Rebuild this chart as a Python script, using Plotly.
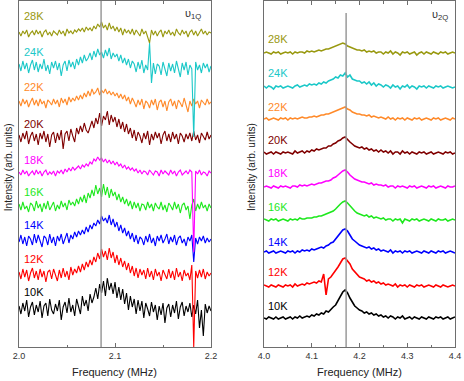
import numpy as np
import plotly.graph_objects as go
from plotly.subplots import make_subplots

TEMPS = ["10K", "12K", "14K", "16K", "18K", "20K", "22K", "24K", "28K"]
COLORS = ["#000000", "#ff0000", "#0000ff", "#1ee81e", "#ff00ff", "#800000", "#ff8a2a", "#1cc8c8", "#999910"]

# frequency grids (MHz)
FREQ_1Q = np.round(np.linspace(2.0, 2.2, 101), 4)
FREQ_2Q = np.round(np.linspace(4.0, 4.4, 81), 4)
LINE_1Q = 2.0855
LINE_2Q = 4.172

# nu_1Q spectra (arb. units, relative to each baseline)
I1Q_10K = [2, -6, 5, -3, 8, -9, 1, 6, -7, 3,
           -4, 7, -10, 2, 5, -8, 9, -2, -6, 4,
           -3, 8, -12, 1, 6, -5, 10, -4, 3, -8,
           9, 0, -6, 12, 2, 8, -3, 14, 5, 11,
           20, 9, 24, 15, 27, 12, 30, 18, 25, 14,
           26, 10, 21, 8, 19, 4, 15, -2, 12, 1,
           9, -6, 8, -3, 7, -10, 5, -1, -8, 6,
           -4, 3, -12, 2, -7, 5, -15, 0, 4, -9,
           3, -5, 7, -11, 1, 6, -8, 2, -4, 5,
           -9, 3, -6, 8, -20, -2, -28, 4, -5, 2,
           -3]
I1Q_12K = [3, -4, 6, -2, 5, -6, 2, 7, -3, 4,
           -5, 6, -2, 4, -7, 3, 5, -4, 6, -1,
           -6, 5, -3, 7, -2, 4, -5, 8, 0, 6,
           2, 9, 3, 11, 5, 13, 8, 15, 10, 18,
           13, 22, 16, 26, 18, 24, 15, 27, 17, 23,
           12, 20, 10, 17, 8, 14, 5, 12, 2, 9,
           -1, 7, -3, 6, 0, 5, -4, 7, -2, 4,
           -5, 6, -1, 3, -6, 5, 0, -4, 6, -3,
           4, -5, 7, -2, 3, -6, 5, -1, 2, -5,
           10, -72, 4, -3, 5, -2, 6, -4, 3, -1,
           2]
I1Q_14K = [-2, 5, -4, 3, -6, 4, 1, -5, 6, -3,
           5, -2, -7, 4, 2, -5, 6, -3, 3, -6,
           4, -1, 6, -4, 2, 7, -3, 5, 1, 8,
           3, 9, 5, 10, 6, 13, 8, 15, 11, 17,
           14, 20, 16, 24, 19, 22, 17, 25, 15, 21,
           13, 18, 9, 15, 7, 12, 4, 9, 1, 7,
           -2, 5, -4, 3, 1, -5, 4, -2, 6, -3,
           2, -6, 4, -1, 5, -3, 1, 6, -4, 3,
           -2, 5, -5, 2, 4, -3, 1, -6, 3, -1,
           5, -22, 2, -4, 3, -1, 4, -3, 2, -2,
           1]
I1Q_16K = [3, -3, 5, -2, 1, -5, 4, 2, -4, 6,
           -1, 3, -5, 4, -2, 6, -3, 1, 5, -4,
           2, -2, 6, 0, 4, -3, 7, 2, 5, 1,
           8, 3, 10, 5, 12, 4, 14, 9, 17, 11,
           22, 13, 19, 10, 23, 12, 20, 9, 18, 11,
           15, 7, 13, 5, 10, 3, 8, 1, 6, -2,
           5, -1, 4, -4, 3, 2, -3, 5, -1, 3,
           -4, 4, 0, -2, 5, -3, 2, -5, 4, 1,
           -3, 5, -2, 3, -6, 2, 4, -3, 1, -12,
           2, 8, -4, 3, -2, 5, -1, 2, -4, 3,
           -1]
I1Q_18K = [1, -2, 3, -1, 2, -3, 0, 2, -2, 3,
           -1, 2, -3, 1, 3, -2, 1, -1, 2, -3,
           2, 0, 3, -1, 4, 1, 5, 2, 6, 3,
           5, 7, 4, 8, 6, 9, 7, 11, 9, 14,
           12, 16, 13, 15, 11, 14, 10, 13, 9, 12,
           8, 11, 7, 9, 5, 8, 4, 6, 3, 5,
           2, 4, 0, 3, -1, 2, 1, -2, 3, 0,
           -2, 2, 1, -3, 3, -1, 2, 0, -2, 3,
           -1, 2, -3, 1, 3, -2, 0, 2, -1, 3,
           1, -79, 2, -1, 3, -2, 1, 0, -3, 2,
           0]
I1Q_20K = [2, -5, 4, -2, 6, -7, 1, 5, -4, 3,
           -8, 4, -2, 6, -5, 3, -10, 2, 5, -6,
           4, -3, 7, -12, 3, 6, -4, 8, 1, -5,
           9, 3, 11, 5, 14, 7, 4, 10, 16, 9,
           19, 13, 24, 11, 21, 17, 26, 12, 22, 15,
           20, 10, 18, 8, 15, 5, 13, 3, 9, -1,
           7, -4, 5, 1, -6, 4, -2, 6, -8, 3,
           -3, 5, -1, 4, -7, 2, 6, -4, 3, -5,
           5, -2, 3, -7, 4, 1, -5, 3, -2, 4,
           -4, 6, -3, 2, -6, 4, 0, -3, 5, -2,
           2]
I1Q_22K = [2, -3, 4, -1, 3, -4, 1, 5, -2, 3,
           -3, 4, -1, 2, -5, 3, 1, -2, 4, -1,
           3, -4, 5, 0, 4, -2, 6, 1, 5, 2,
           7, 3, 8, 4, 10, 6, 12, 7, 14, 9,
           11, 15, 8, 13, 10, 14, 9, 12, 8, 11,
           7, 10, 5, 9, 4, 8, 2, 6, -1, 5,
           1, -4, 3, -2, 4, -6, 2, 0, -5, 3,
           -2, 4, -7, 1, 3, -4, 2, -8, 1, 4,
           -3, 2, -6, 3, 0, -4, 5, -2, -9, 2,
           -3, 4, -1, 2, -5, 3, 0, -2, 4, -1,
           1]
I1Q_24K = [3, -4, 6, -2, 4, -6, 2, 7, -3, 5,
           -5, 3, -2, 8, -4, 2, -7, 5, -1, 6,
           -3, 4, -9, 2, 6, -4, 7, 0, 5, -2,
           8, 2, 10, 4, 12, 6, 9, 14, 7, 16,
           10, 18, 12, 15, 9, 17, 11, 19, 8, 14,
           10, 13, 6, 12, 4, 9, 2, 8, -1, 6,
           3, -5, 5, -2, 7, -6, 2, -3, 24, -16,
           4, -7, 3, 1, -8, 5, -2, -9, 4, -4,
           3, -6, 6, -1, -10, 4, -3, 5, -8, 2,
           -2, -70, 5, -3, 2, -6, 4, -1, 3, -5,
           1]
I1Q_28K = [1, -3, 2, -1, 3, -4, 0, 2, -2, 3,
           -1, 2, -4, 1, 3, -2, 1, -3, 2, 0,
           -2, 3, -1, 2, -3, 4, 0, 2, -1, 3,
           1, 4, 2, 5, 1, 6, 3, 5, 2, 7,
           4, 9, 6, 11, 5, 8, 3, 10, 4, 7,
           2, 6, 1, 5, -2, 4, 0, 3, -1, 4,
           -2, 3, 0, -3, 4, -1, 2, -4, -10, 3,
           -2, 2, -3, 1, 3, -4, 2, -1, 3, -2,
           1, -3, 4, 0, -2, 3, -1, 2, -4, 1,
           3, -2, 2, -3, 1, 4, -1, 2, -2, 1,
           0]

# nu_2Q spectra
I2Q_10K = [0, -1, 1, 0, -1, 1, -1, 0, 1, -1,
           0, 1, -1, 1, 0, 2, 0, 1, 2, 1,
           3, 2, 4, 3, 5, 4, 7, 6, 9, 11,
           13, 17, 21, 26, 28, 25, 20, 16, 12, 10,
           8, 7, 5, 6, 4, 5, 3, 4, 2, 3,
           1, 2, 0, 2, 1, -1, 1, 0, 2, -1,
           0, 1, -1, 1, 0, -1, 1, 0, -1, 1,
           0, -1, 1, 0, 1, -1, 0, 1, -1, 0,
           1]
I2Q_12K = [1, 0, -1, 1, 0, -1, 1, 0, -1, 1,
           0, 1, -1, 2, 0, 1, 2, 1, 3, 2,
           3, 4, 3, 5, 4, 12, -9, 7, 9, 12,
           15, 19, 23, 27, 28, 25, 22, 17, 14, 11,
           9, 8, 7, 5, 6, 4, 5, 3, 4, 2,
           3, 1, 2, 1, 0, 2, -1, 1, 0, 1,
           -1, 1, 0, -1, 1, 0, 1, -1, 0, 1,
           0, -1, 1, 0, -1, 1, 0, -1, 0, 1,
           0]
I2Q_14K = [0, 1, -1, 0, 1, -1, 0, 1, 0, -1,
           1, 0, 1, -1, 1, 0, 2, 1, 2, 1,
           3, 2, 3, 4, 5, 4, 6, 7, 9, 10,
           13, 16, 19, 22, 23, 21, 17, 13, 11, 9,
           7, 6, 5, 4, 5, 3, 4, 2, 3, 1,
           2, 1, 0, 2, -1, 1, 0, 1, -1, 1,
           0, 1, -1, 0, 1, 0, -1, 1, 0, -1,
           1, 0, -1, 1, 0, 1, -1, 0, 1, 0,
           -1]
I2Q_16K = [1, 0, -1, 1, 0, 1, -1, 0, 1, 0,
           -1, 1, 0, 1, 0, 2, 1, 1, 2, 2,
           2, 3, 3, 4, 4, 5, 6, 7, 8, 9,
           11, 14, 16, 18, 19, 17, 14, 11, 9, 7,
           6, 5, 4, 5, 3, 4, 2, 3, 2, 1,
           2, 0, 1, 1, -1, 1, 0, 1, -3, 1,
           0, -1, 1, 0, 1, -1, 0, 1, 0, -1,
           1, 0, -1, 1, 0, 0, 1, -1, 0, 1,
           0]
I2Q_18K = [0, 1, 0, -1, 1, 0, -1, 1, 0, 1,
           0, -1, 1, 1, 0, 2, 1, 2, 1, 2,
           3, 2, 3, 4, 4, 5, 6, 6, 7, 9,
           10, 12, 14, 16, 17, 15, 12, 10, 8, 7,
           6, 5, 5, 4, 3, 4, 2, 3, 2, 2,
           1, 2, 0, 1, 1, -1, 1, 0, 1, 0,
           -1, 1, 0, 1, -1, 0, 1, 0, -1, 1,
           0, 1, -1, 0, 1, 0, -1, 1, 0, 0,
           1]
I2Q_20K = [1, -1, 0, 1, -1, 1, 0, -1, 1, 0,
           1, 0, -1, 2, 0, 1, 2, 0, 2, 1,
           3, 2, 4, 3, 4, 5, 5, 7, 7, 9,
           10, 12, 13, 15, 16, 13, 11, 9, 7, 6,
           5, 6, 4, 5, 3, 4, 2, 3, 1, 3,
           1, 2, 0, 2, -1, 1, 1, -1, 2, 0,
           1, -1, 1, 0, -1, 1, 0, 1, -1, 0,
           1, -1, 0, 1, 0, -1, 1, 0, 1, -1,
           0]
I2Q_22K = [0, 1, -1, 0, 1, 0, -1, 1, 0, 1,
           -1, 1, 0, 1, 0, 1, 2, 1, 1, 2,
           2, 3, 2, 3, 4, 4, 5, 5, 6, 7,
           8, 9, 10, 11, 12, 10, 9, 7, 6, 5,
           5, 4, 4, 3, 4, 2, 3, 2, 1, 2,
           1, 0, 2, 0, 1, -1, 1, 0, 1, -1,
           1, 0, -1, 1, 0, 1, -1, 0, 1, 0,
           -1, 1, 0, 1, -1, 0, 1, 0, -1, 1,
           0]
I2Q_24K = [1, -1, 1, 0, -2, 1, 0, 1, -1, 0,
           1, 0, -1, 1, 2, 0, 1, 2, 1, 3,
           2, 3, 2, 4, 3, 5, 4, 6, 7, 8,
           10, 9, 12, 11, 14, 10, 12, 8, 7, 6,
           6, 4, 5, 3, 5, 2, 4, 1, 3, 2,
           0, 2, 1, -1, 2, 0, 1, -2, 1, 0,
           2, -1, 1, 0, -2, 1, 0, 1, -1, 1,
           0, -1, 1, 0, 1, -1, 0, 1, 0, -1,
           0]
I2Q_28K = [0, 1, 0, -1, 1, 0, 1, -1, 0, 1,
           0, 1, -1, 1, 0, 1, 1, 0, 2, 1,
           2, 1, 2, 3, 2, 3, 4, 4, 5, 6,
           7, 8, 9, 10, 9, 7, 6, 5, 4, 3,
           3, 2, 3, 1, 2, 1, 2, 0, 1, 1,
           -1, 1, 0, 2, -1, 1, 0, -2, 1, 0,
           1, -1, 0, 1, -2, 0, 1, -1, 1, 0,
           -1, 1, 0, -1, 1, 0, 1, -1, 0, 1,
           0]

SPECTRA_1Q = [I1Q_10K, I1Q_12K, I1Q_14K, I1Q_16K, I1Q_18K, I1Q_20K, I1Q_22K, I1Q_24K, I1Q_28K]
SPECTRA_2Q = [I2Q_10K, I2Q_12K, I2Q_14K, I2Q_16K, I2Q_18K, I2Q_20K, I2Q_22K, I2Q_24K, I2Q_28K]

# vertical stacking offsets and label heights (same arb. units)
OFFSET_1Q = [39, 72, 107, 140, 174, 210, 244, 280, 314]
OFFSET_2Q = [29, 61, 95, 127, 160, 194, 228, 260, 294]
LABEL_Y_1Q = [55, 88, 122, 155, 187, 223, 260, 295, 331]
LABEL_Y_2Q = [41, 75, 105, 140, 174, 207, 240, 274, 308]

FONT = "Liberation Sans, Arial, sans-serif"
FRAME = "#6e6e6e"

fig = make_subplots(rows=1, cols=2)

for temp, color, values, offset in zip(TEMPS, COLORS, SPECTRA_1Q, OFFSET_1Q):
    fig.add_trace(
        go.Scatter(x=FREQ_1Q, y=np.asarray(values) + offset, mode="lines",
                   line={"color": color, "width": 1.1}, name=temp, showlegend=False),
        row=1, col=1,
    )
for temp, color, values, offset in zip(TEMPS, COLORS, SPECTRA_2Q, OFFSET_2Q):
    fig.add_trace(
        go.Scatter(x=FREQ_2Q, y=np.asarray(values) + offset, mode="lines",
                   line={"color": color, "width": 1.6}, name=temp, showlegend=False),
        row=1, col=2,
    )

fig.add_shape(type="line", xref="x", yref="y domain", x0=LINE_1Q, x1=LINE_1Q, y0=0, y1=1,
              line={"color": "#9a9a9a", "width": 1.5}, layer="above")
fig.add_shape(type="line", xref="x2", yref="y2 domain", x0=LINE_2Q, x1=LINE_2Q, y0=0, y1=0.965,
              line={"color": "#9a9a9a", "width": 1.5}, layer="above")

for temp, color, ly in zip(TEMPS, COLORS, LABEL_Y_1Q):
    fig.add_annotation(x=2.003, y=ly, xref="x", yref="y", text=temp, showarrow=False,
                       xanchor="left", yanchor="middle", font={"size": 11, "color": color})
for temp, color, ly in zip(TEMPS, COLORS, LABEL_Y_2Q):
    fig.add_annotation(x=4.005, y=ly, xref="x2", yref="y2", text=temp, showarrow=False,
                       xanchor="left", yanchor="middle", font={"size": 11, "color": color})

fig.add_annotation(x=0.96, y=0.962, xref="x domain", yref="y domain", text="υ<sub>1Q</sub>",
                   showarrow=False, xanchor="right", yanchor="middle", font={"size": 11, "color": "#333"})
fig.add_annotation(x=0.975, y=0.96, xref="x2 domain", yref="y2 domain", text="υ<sub>2Q</sub>",
                   showarrow=False, xanchor="right", yanchor="middle", font={"size": 11, "color": "#333"})

for xc in (0.22, 0.78):
    fig.add_annotation(x=xc, y=-0.072, xref="paper", yref="paper", text="Frequency (MHz)",
                       showarrow=False, xanchor="center", yanchor="middle", font={"size": 11, "color": "#222"})
for xc in (-0.025, 0.532):
    fig.add_annotation(x=xc, y=0.52, xref="paper", yref="paper", text="Intensity (arb. units)",
                       textangle=-90, showarrow=False, xanchor="center", yanchor="middle",
                       font={"size": 10, "color": "#222"})

axis_common = dict(showline=True, linecolor=FRAME, linewidth=1, mirror="ticks", ticks="inside",
                   tickcolor=FRAME, ticklen=4, showgrid=False, zeroline=False,
                   tickfont={"size": 9, "color": "#333"}, tickformat=".1f",
                   minor={"ticks": "inside", "ticklen": 2.5, "tickcolor": FRAME, "showgrid": False})
fig.update_xaxes(range=[2.0, 2.2], dtick=0.1, tick0=2.0, domain=[0, 0.4404],
                 minor_dtick=0.05, row=1, col=1, **axis_common)
fig.update_xaxes(range=[4.0, 4.4], dtick=0.1, tick0=4.0, domain=[0.5619, 1.0],
                 minor_dtick=0.05, row=1, col=2, **axis_common)
fig.update_yaxes(range=[0, 346], showticklabels=False, ticks="", showline=True, linecolor=FRAME,
                 linewidth=1, mirror=True, showgrid=False, zeroline=False)

fig.update_layout(
    width=464, height=381,
    margin={"l": 19, "r": 9, "t": 1, "b": 34},
    paper_bgcolor="white", plot_bgcolor="white",
    font={"family": FONT, "color": "#222"},
    showlegend=False,
)

fig.write_html("out.html", config={"displayModeBar": False},
               post_script="document.body.style.margin='0';")
